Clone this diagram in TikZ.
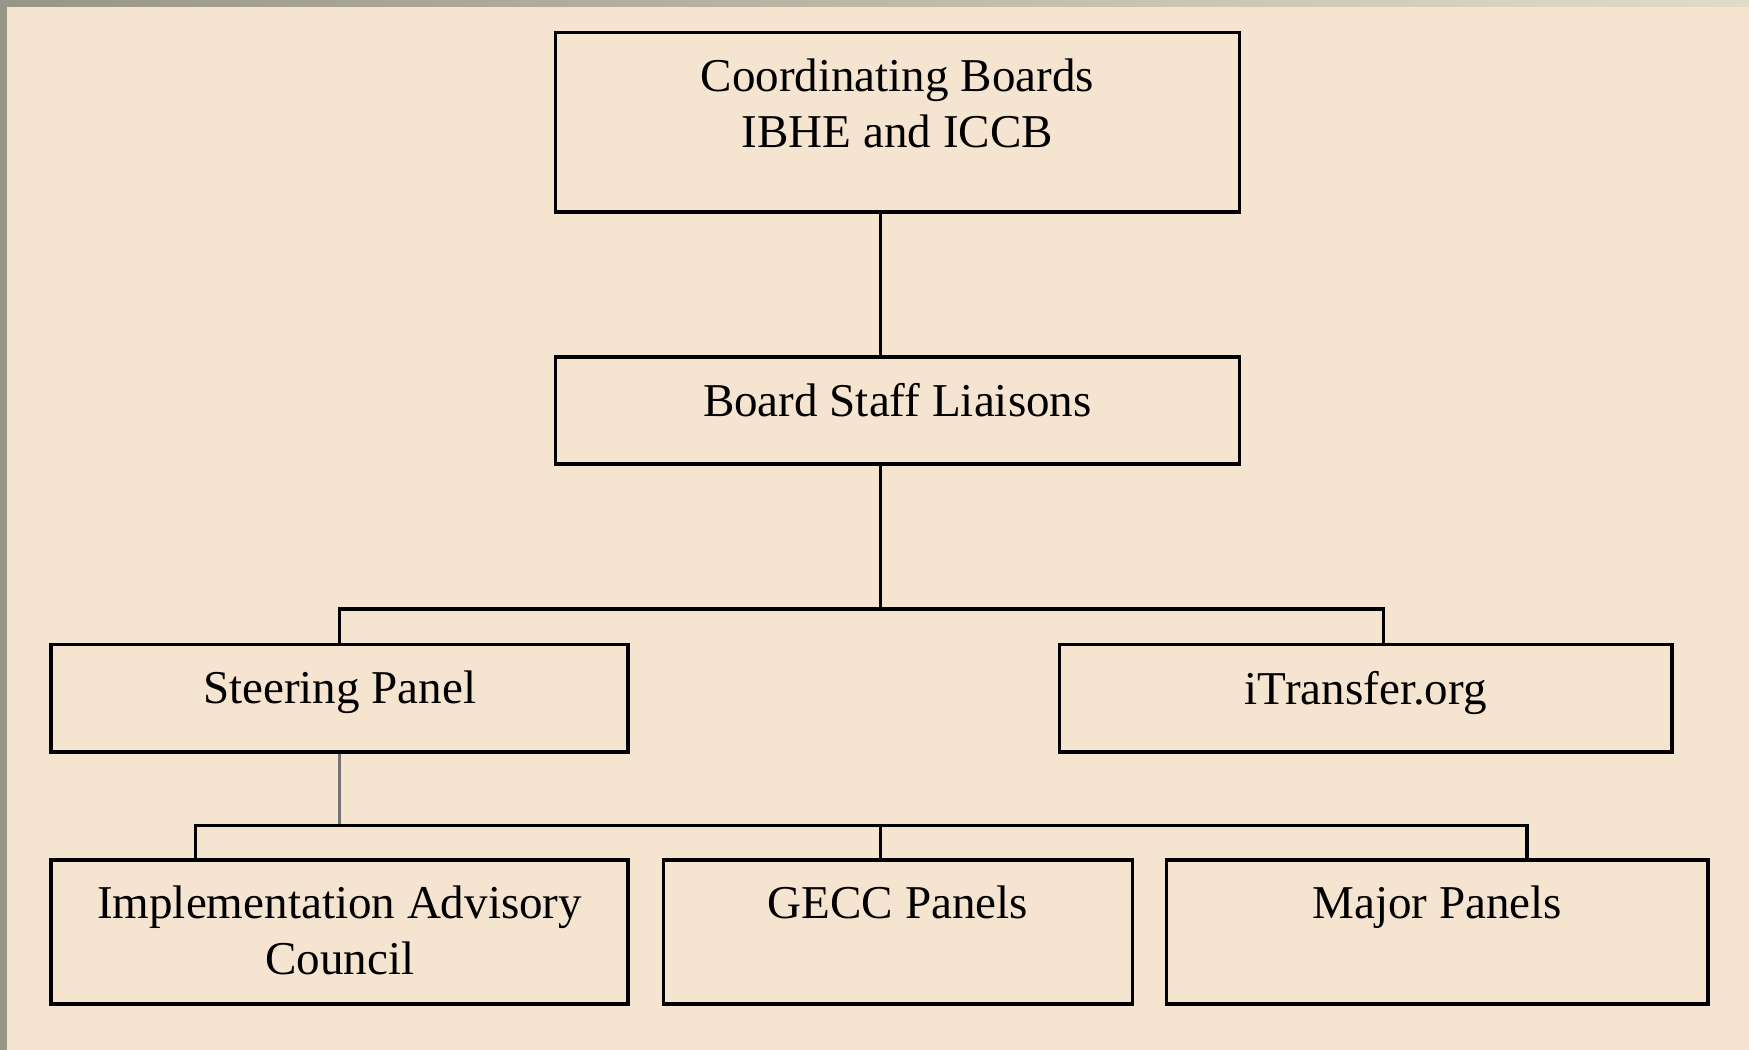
\documentclass[tikz,border=0pt]{standalone}
\usepackage{fontspec}
\setmainfont{Liberation Serif}
\usetikzlibrary{positioning}
\definecolor{paper}{RGB}{245,228,208}
\definecolor{frameL}{RGB}{152,150,134}
\definecolor{frameR}{RGB}{224,220,200}

\begin{document}
\begin{tikzpicture}[x=0.01cm, y=-0.01cm,
	box/.style={draw, line width=0.9pt, fill=paper, inner sep=0pt},
	lbl/.style={inner sep=0pt, align=center, font=\fontsize{12}{14.2}\selectfont},
	wire/.style={line width=0.8pt}]
	\useasboundingbox (0,0) rectangle (1568,941);
	\fill[paper] (0,0) rectangle (1568,941);
	\shade[left color=frameL, right color=frameR] (0,0) rectangle (1568,6);
	\fill[frameL] (0,0) rectangle (6,941);

	\node[box, minimum width=6.13cm, minimum height=1.61cm] (boards) at (804.5,109.5) {};
	\node[box, minimum width=6.13cm, minimum height=0.96cm] (staff) at (804.5,368) {};
	\node[box, minimum width=5.17cm, minimum height=0.96cm] (steering) at (304.5,626) {};
	\node[box, minimum width=5.49cm, minimum height=0.96cm] (itransfer) at (1224.5,626) {};
	\node[box, minimum width=5.17cm, minimum height=1.29cm] (iac) at (304.5,835.5) {};
	\node[box, minimum width=4.20cm, minimum height=1.29cm] (gecc) at (805,835.5) {};
	\node[box, minimum width=4.85cm, minimum height=1.29cm] (major) at (1288.5,835.5) {};

	\node[lbl, below=0.245cm of boards.north] (boardsT) {Coordinating Boards\\IBHE and ICCB};
	\node[lbl, below=0.245cm of staff.north] (staffT) {Board Staff Liaisons};
	\node[lbl, below=0.245cm of steering.north] (steeringT) {Steering Panel};
	\node[lbl, below=0.245cm of itransfer.north] (itransferT) {iTransfer.org};
	\node[lbl, below=0.245cm of iac.north] (iacT) {Implementation Advisory\\Council};
	\node[lbl, below=0.245cm of gecc.north] (geccT) {GECC Panels};
	\node[lbl, below=0.245cm of major.north] (majorT) {Major Panels};

	\coordinate (spine) at (789,0);
	\coordinate (busA) at (789,546);
	\coordinate (busB) at (304.5,740);
	\coordinate (tapIT) at (1240,0);
	\coordinate (tapI) at (175,0);
	\coordinate (tapM) at (1369,0);

	\draw[wire] (boards.south -| spine) -- (staff.north -| spine);
	\draw[wire] (staff.south -| spine) -- (busA);
	\draw[wire] (steering.north) |- (busA) -| (itransfer.north -| tapIT);
	\draw[wire, draw=black!55] (steering.south) -- (busB);
	\draw[wire] (iac.north -| tapI) |- (busB) -| (major.north -| tapM);
	\draw[wire] (busB -| spine) -- (gecc.north -| spine);

\end{tikzpicture}
\end{document}
